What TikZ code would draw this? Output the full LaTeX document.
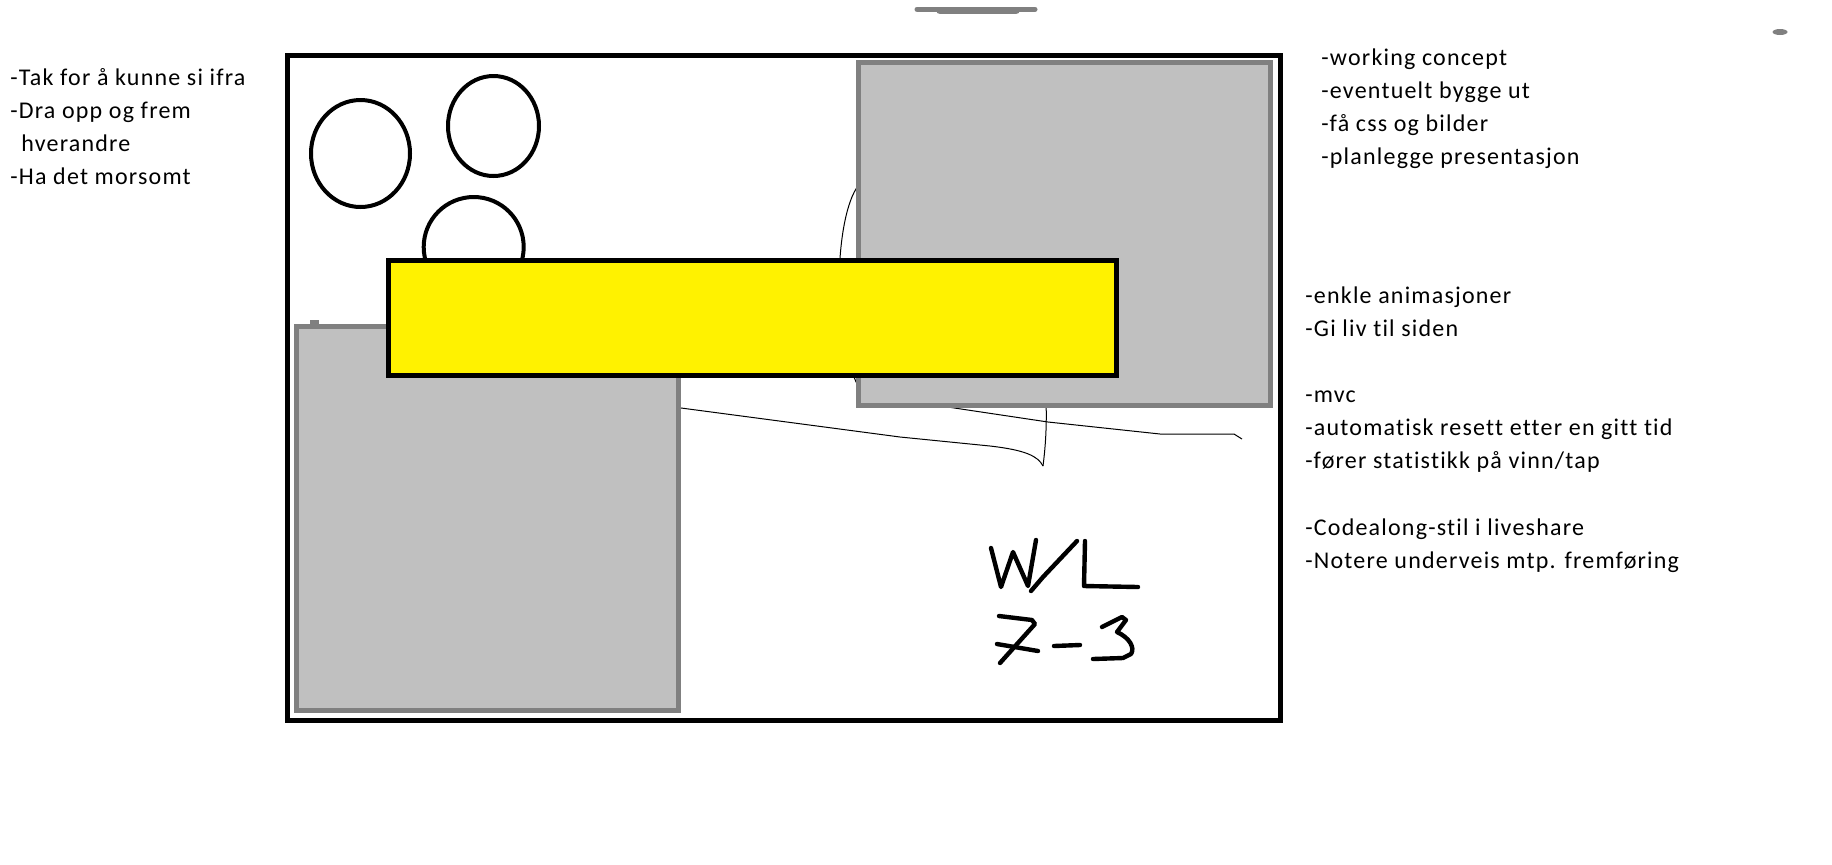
\documentclass[tikz,border=0pt]{standalone}
\usepackage{fontspec}
\setmainfont{Carlito}
\newfontfamily\notefont[LetterSpace=5, Ligatures=NoCommon]{Carlito}
\usepackage{tikz}
\usepackage{xcolor}
\definecolor{boardgray}{RGB}{192,192,192}
\definecolor{edgegray}{RGB}{128,128,128}
\definecolor{bannerYellow}{RGB}{255,242,0}

\begin{document}
\begin{tikzpicture}[
    x=0.5pt, y=-0.5pt,
    board/.style={draw=black, line width=2.5pt},
    panel/.style={draw=edgegray, fill=boardgray, line width=2.5pt},
    banner/.style={draw=black, fill=bannerYellow, line width=2.5pt},
    player/.style={draw=black, line width=2pt},
    sketch/.style={draw=black, line width=0.5pt},
    pen/.style={draw=black, line width=2.2pt, line cap=round, line join=round},
    notes/.style={font=\notefont\fontsize{12}{16.5}\selectfont, align=left,
                  inner sep=0pt, anchor=base west},
  ]
  \useasboundingbox (0,0) rectangle (1832,864);
  % smudges at the top
  \draw[edgegray, line width=2.5pt, line cap=round] (917,9.2) -- (1035,9.2);
  \draw[edgegray, line width=3.8pt, line cap=round] (940,10.5) -- (1016,10.5);
  \fill[edgegray] (1780,32) ellipse [x radius=7.5, y radius=3];
  % board
  \draw[board] (287.5,55.8) rectangle (1280.2,720.3);
  % players
  \draw[player] (360.5,153.5) ellipse [x radius=49.5, y radius=53.5];
  \draw[player] (493.5,126) ellipse [x radius=45.5, y radius=50];
  \draw[player] (473.7,247) ellipse [x radius=50, y radius=50];
  % pencil lines
  \draw[sketch] (858,186) .. controls (836,215) and (830,330) .. (858,386);
  \draw[sketch] (672,406.8) -- (900,437) -- (990,446)
      .. controls (1025,450) and (1038,456) .. (1043,466);
  \draw[sketch] (1046,400) .. controls (1047,430) and (1045,450) .. (1043,466);
  \draw[sketch] (945,406.6) -- (1048,422) -- (1160,434) -- (1234,434) -- (1242,439);
  % panels
  \draw[panel] (858.5,62.5) rectangle (1270.5,405.5);
  \draw[panel] (296.5,326.5) rectangle (678.5,710.5);
  \fill[edgegray] (310,320) rectangle (319,326);
  \draw[banner] (388.5,260.5) rectangle (1116.5,375.2);
  % score
  \draw[pen] (991,548) -- (1001,587) -- (1013,552) -- (1028,586) -- (1036,540);
  \draw[pen] (1031,591) -- (1043,577) -- (1077,541);
  \draw[pen] (1085,541) -- (1084,586) -- (1138,587);
  \draw[pen] (999,616) -- (1032,620) -- (1035,624) -- (1000,663);
  \draw[pen] (997,644) -- (1038,651);
  \draw[pen] (1054,646) -- (1080,645);
  \draw[pen] (1102,627) -- (1122,617) -- (1126,620) -- (1117,632)
      .. controls (1130,638) and (1135,648) .. (1131,654)
      -- (1123,658) -- (1093,659);
  % notes (anchored at the last line)
  \node[notes] (notesLeft) at (10,184)
    {-Tak for å kunne si ifra\\-Dra opp og frem\\\hspace*{5.5pt}hverandre\\-Ha det morsomt};
  \node[notes] (notesPlan) at (1321,164)
    {-working concept\\-eventuelt bygge ut\\-få css og bilder\\-planlegge presentasjon};
  \node[notes] (notesAnim) at (1305,336)
    {-enkle animasjoner\\-Gi liv til siden};
  \node[notes] (notesMvc) at (1305,468)
    {-mvc\\-automatisk resett etter en gitt tid\\-fører statistikk på vinn/tap};
  \node[notes] (notesCode) at (1305,568)
    {-Codealong-stil i liveshare\\-Notere underveis mtp. fremføring};
\end{tikzpicture}
\end{document}
